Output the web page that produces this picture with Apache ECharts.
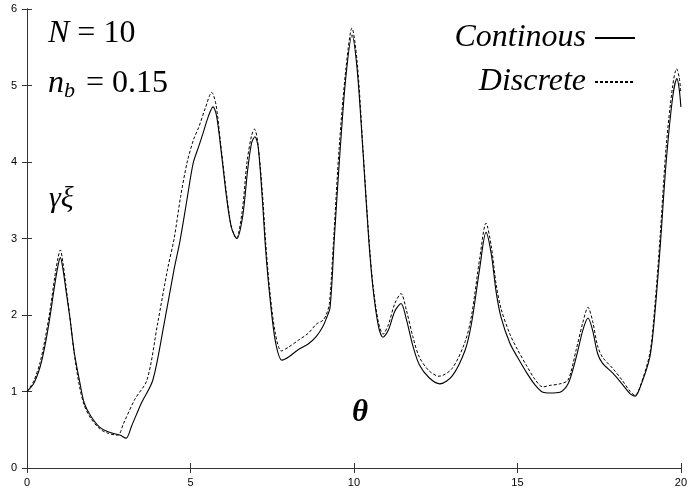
<!DOCTYPE html>
<html>
<head>
<meta charset="utf-8">
<script src="https://cdn.jsdelivr.net/npm/echarts@6/dist/echarts.min.js"></script>
<style>
  html, body { margin: 0; padding: 0; background: #fff; }
  #main { width: 690px; height: 489px; }
</style>
</head>
<body>
<div id="main"></div>
<script>
let chartDom = document.getElementById('main');
let myChart = echarts.init(chartDom);

// values
let xTicks = [0, 5, 10, 15, 20];
let yTicks = [0, 1, 2, 3, 4, 5, 6];

let contX = [0, 0.2, 0.4, 0.55, 0.7, 0.85, 0.95, 1.02, 1.1, 1.2, 1.31, 1.45, 1.62, 1.75, 1.95, 2.23, 2.5, 2.84, 3.03,
    3.2, 3.5, 3.85, 4.2, 4.5, 4.68, 4.89, 5.08, 5.25, 5.38, 5.55, 5.69, 5.8, 5.95, 6.1, 6.25, 6.42, 6.6, 6.75, 6.87,
    6.97, 7.07, 7.2, 7.3, 7.43, 7.6, 7.8, 8.0, 8.3, 8.6, 8.85, 9.05, 9.15, 9.27, 9.4, 9.57, 9.75, 9.94, 10.1, 10.28,
    10.45, 10.58, 10.75, 10.89, 11.05, 11.25, 11.44, 11.6, 11.8, 12.0, 12.3, 12.63, 13.0, 13.4, 13.6, 13.85, 14.04,
    14.2, 14.35, 14.5, 14.77, 15.0, 15.29, 15.55, 15.78, 16.0, 16.3, 16.55, 16.8, 17.0, 17.16, 17.3, 17.45, 17.6,
    17.92, 18.2, 18.45, 18.6, 18.75, 19.05, 19.2, 19.36, 19.55, 19.75, 19.88, 19.95, 20.0];
let contY = [1.00, 1.10, 1.32, 1.6, 1.97, 2.4, 2.65, 2.75, 2.6, 2.3, 1.97, 1.5, 1.11, 0.85, 0.68, 0.53, 0.47, 0.43, 0.39,
    0.55, 0.85, 1.15, 1.9, 2.6, 2.97, 3.5, 3.98, 4.2, 4.37, 4.6, 4.72, 4.6, 4.1, 3.55, 3.15, 3.0, 3.3, 3.9, 4.25,
    4.33, 4.2, 3.5, 2.85, 2.23, 1.65, 1.41, 1.45, 1.55, 1.62, 1.72, 1.85, 1.95, 2.1, 3.0, 4.11, 5.1, 5.66, 5.2, 4.11,
    3.0, 2.36, 1.85, 1.71, 1.8, 2.05, 2.15, 1.95, 1.6, 1.35, 1.18, 1.1, 1.2, 1.54, 1.9, 2.62, 3.08,
    2.8, 2.3, 1.97, 1.63, 1.45, 1.24, 1.08, 0.99, 0.98, 0.99, 1.1, 1.45, 1.8, 1.96, 1.8, 1.5, 1.37,
    1.24, 1.1, 0.97, 0.94, 1.05, 1.45, 2.0, 2.85, 4.0, 4.85, 5.09, 4.95, 4.72];

let discX = [0, 0.2, 0.4, 0.55, 0.7, 0.85, 0.95, 1.02, 1.1, 1.2, 1.31, 1.45, 1.6, 1.75, 1.95, 2.23, 2.5, 2.78, 2.95,
    3.3, 3.67, 4.0, 4.3, 4.5, 4.7, 4.9, 5.1, 5.25, 5.45, 5.65, 5.78, 5.92, 6.1, 6.25, 6.4, 6.58, 6.73, 6.87, 6.96,
    7.06, 7.2, 7.3, 7.43, 7.6, 7.78, 8.0, 8.3, 8.6, 8.85, 9.05, 9.15, 9.25, 9.38, 9.55, 9.75, 9.94, 10.1, 10.28,
    10.45, 10.58, 10.75, 10.89, 11.05, 11.25, 11.44, 11.6, 11.8, 12.0, 12.3, 12.6, 13.0, 13.4, 13.6, 13.85, 14.04,
    14.2, 14.35, 14.5, 14.77, 15.0, 15.29, 15.55, 15.78, 16.0, 16.3, 16.55, 16.8, 17.0, 17.16, 17.3, 17.45, 17.6,
    17.92, 18.2, 18.45, 18.6, 18.75, 19.05, 19.2, 19.36, 19.55, 19.75, 19.87, 19.95, 20.0];
let discY = [1.0, 1.13, 1.38, 1.68, 2.05, 2.5, 2.75, 2.85, 2.68, 2.35, 1.98, 1.48, 1.08, 0.82, 0.65, 0.51, 0.45, 0.43, 0.58,
    0.9, 1.15, 1.9, 2.6, 3.0, 3.55, 4.0, 4.3, 4.45, 4.7, 4.91, 4.75, 4.25, 3.6, 3.15, 3.0, 3.35, 4.0, 4.35, 4.43,
    4.25, 3.6, 2.95, 2.3, 1.75, 1.53, 1.58, 1.67, 1.76, 1.88, 1.93, 2.0, 2.15, 3.0, 4.2, 5.2, 5.75, 5.3, 4.15,
    3.05, 2.4, 1.9, 1.75, 1.87, 2.15, 2.28, 2.07, 1.72, 1.45, 1.27, 1.2, 1.3, 1.65, 2.0, 2.75, 3.2,
    2.9, 2.4, 2.08, 1.75, 1.55, 1.33, 1.15, 1.06, 1.08, 1.1, 1.15, 1.55, 1.9, 2.1, 1.92, 1.6, 1.45,
    1.3, 1.15, 1.0, 0.95, 1.06, 1.5, 2.1, 3.0, 4.2, 5.0, 5.22, 5.1, 4.9];

function pairs(xs, ys) {
    return xs.map((x, i) => [x, ys[i]]);
}

let serif = 'Liberation Serif';
let axisColor = '#333';
let labelStyle = { fontFamily: 'Liberation Sans', fontSize: 11, color: '#000' };

// bottom padding lifts the text a bit above the legend line
let legendText = {
    fontFamily: serif,
    fontStyle: 'italic',
    fontSize: 32,
    color: '#000',
    padding: [0, 4, 10, 0]
};

option = {
    backgroundColor: '#fff',
    animation: false,
    color: ['#000', '#000'],
    grid: { left: 27, right: 8, top: 9, bottom: 21 },
    legend: [
        {
            data: ['Continous'],
            right: 49, top: 17,
            align: 'right',
            itemWidth: 40, itemHeight: 12,
            itemStyle: { opacity: 0 },
            textStyle: legendText
        },
        {
            data: ['Discrete'],
            right: 49, top: 61,
            align: 'right',
            itemWidth: 40, itemHeight: 12,
            itemStyle: { opacity: 0 },
            textStyle: legendText
        }
    ],
    xAxis: [
        {
            type: 'value', min: 0, max: 20, interval: 5,
            axisLine: { lineStyle: { color: axisColor } },
            axisTick: { inside: true, length: 5, lineStyle: { color: axisColor } },
            axisLabel: Object.assign({ margin: 9, showMaxLabel: true }, labelStyle),
            splitLine: { show: false }
        },
        {
            type: 'value', min: 0, max: 20, interval: 5, position: 'top',
            axisLine: { show: true, lineStyle: { color: axisColor } },
            axisTick: { inside: true, length: 5, lineStyle: { color: axisColor } },
            axisLabel: { show: false },
            splitLine: { show: false }
        }
    ],
    yAxis: [
        {
            type: 'value', min: 0, max: 6, interval: 1,
            axisLine: { show: true, lineStyle: { color: axisColor } },
            axisTick: { show: true, inside: true, length: 5, lineStyle: { color: axisColor } },
            axisLabel: Object.assign({ margin: 10 }, labelStyle),
            splitLine: { show: false }
        },
        {
            type: 'value', min: 0, max: 6, interval: 1, position: 'right',
            axisLine: { show: true, lineStyle: { color: axisColor } },
            axisTick: { show: true, inside: true, length: 5, lineStyle: { color: axisColor } },
            axisLabel: { show: false },
            splitLine: { show: false }
        }
    ],
    series: [
        {
            name: 'Continous',
            type: 'line',
            data: pairs(contX, contY),
            smooth: 0.3,
            symbol: 'none',
            itemStyle: { color: '#000' },
            lineStyle: { color: '#000', width: 1.1 }
        },
        {
            name: 'Discrete',
            type: 'line',
            data: pairs(discX, discY),
            smooth: 0.3,
            symbol: 'none',
            itemStyle: { color: '#000' },
            lineStyle: { color: '#000', width: 1, type: [3, 2] }
        }
    ],
    graphic: [
        {
            type: 'text', left: 48, top: 18,
            style: {
                text: '{i|N} = 10',
                font: '32px "Liberation Serif"',
                fill: '#000',
                rich: { i: { fontFamily: serif, fontStyle: 'italic', fontSize: 32 } }
            }
        },
        {
            type: 'text', left: 48, top: 68,
            style: {
                text: '{i|n}{s|b} = 0.15',
                font: '32px "Liberation Serif"',
                fill: '#000',
                rich: {
                    i: { fontFamily: serif, fontStyle: 'italic', fontSize: 32 },
                    s: { fontFamily: serif, fontStyle: 'italic', fontSize: 22, padding: [15, 3, 0, 0] }
                }
            }
        },
        {
            type: 'text', left: 49, top: 184,
            style: { text: 'γξ', font: 'italic 30px "Liberation Serif"', fill: '#000' }
        },
        {
            type: 'text', left: 352, top: 397,
            style: { text: 'θ', font: 'italic bold 31px "Liberation Serif"', fill: '#000' }
        }
    ]
};

option && myChart.setOption(option);
</script>
</body>
</html>
